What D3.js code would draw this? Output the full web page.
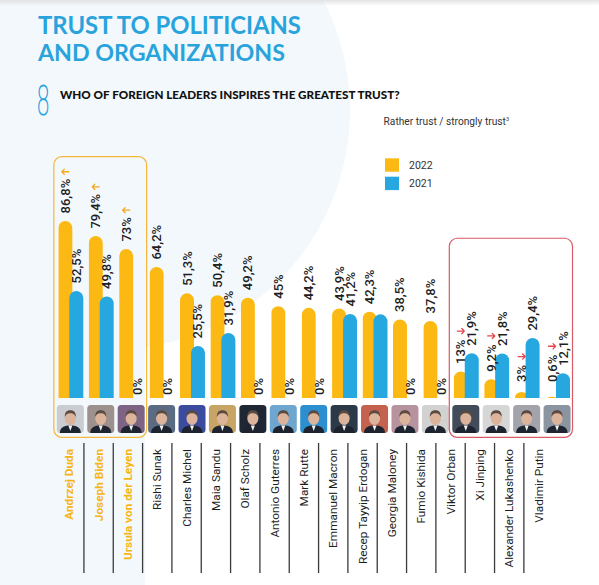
<!DOCTYPE html>
<html>
<head>
<meta charset="utf-8">
<script src="https://cdn.jsdelivr.net/npm/d3@7"></script>
<style>
  html, body { margin: 0; padding: 0; background: #fff; }
  svg { display: block; }
</style>
</head>
<body>
<svg id="chart" width="599" height="585"></svg>
<script>
// data
const leaders = ["Andrzej Duda", "Joseph Biden", "Ursula von der Leyen", "Rishi Sunak", "Charles Michel",
  "Maia Sandu", "Olaf Scholz", "Antonio Guterres", "Mark Rutte", "Emmanuel Macron",
  "Recep Tayyip Erdogan", "Georgia Maloney", "Fumio Kishida", "Viktor Orban", "Xi Jinping",
  "Alexander Lukashenko", "Vladimir Putin"];
const trust2022 = [86.8, 79.4, 73, 64.2, 51.3, 50.4, 49.2, 45, 44.2, 43.9, 42.3, 38.5, 37.8, 13, 9.2, 3, 0.6];
const trust2021 = [52.5, 49.8, 0, 0, 25.5, 31.9, 0, 0, 0, 41.2, 41.0, 0, 0, 21.9, 21.8, 29.4, 12.1];
const years = ["2022", "2021"];
const risers = ["Andrzej Duda", "Joseph Biden", "Ursula von der Leyen"];
const fallers = ["Viktor Orban", "Xi Jinping", "Alexander Lukashenko", "Vladimir Putin"];
const unlabeled2021 = ["Recep Tayyip Erdogan"];

// photo placeholders (background tone of each portrait)
const photoTone = ["#c9cdd2", "#9c918c", "#7d6384", "#5b6b82", "#3b4c9e", "#c9a565", "#1f2735",
  "#6fa6cf", "#2b8fd0", "#2b3949", "#c4624f", "#b7929f", "#d2d2d2", "#424b59", "#d6d6d6", "#a3a3ab", "#8b95a1"];

const W = 599, H = 585;
const yellow = "#fdb913", blue = "#27a7df", textDark = "#1e1e1e";
const svg = d3.select("#chart");

// background
svg.append("rect").attr("width", W).attr("height", H).attr("fill", "#fff");
svg.append("circle").attr("cx", 110).attr("cy", 110).attr("r", 240).attr("fill", "#f3f8fd");
svg.append("rect").attr("width", 145).attr("height", H).attr("fill", "#f3f8fd");
const grad = svg.append("defs").append("linearGradient").attr("id", "topShade")
  .attr("x1", 0).attr("x2", 0).attr("y1", 0).attr("y2", 1);
grad.append("stop").attr("offset", 0).attr("stop-color", "#d8d8d8").attr("stop-opacity", 0.7);
grad.append("stop").attr("offset", 1).attr("stop-color", "#d8d8d8").attr("stop-opacity", 0);
svg.append("rect").attr("width", W).attr("height", 6).attr("fill", "url(#topShade)");

// fit text to a measured width
function fitWidth(sel, w) {
  const len = sel.node().getComputedTextLength();
  sel.attr("font-size", parseFloat(sel.attr("font-size")) * w / len);
}

// titles
const title = svg.append("g").attr("fill", "#29a3dc").attr("font-family", "Lato").attr("font-weight", 700);
fitWidth(title.append("text").attr("x", 38).attr("y", 34.3).attr("font-size", 24).text("TRUST TO POLITICIANS"), 263);
fitWidth(title.append("text").attr("x", 38).attr("y", 61).attr("font-size", 24).text("AND ORGANIZATIONS"), 247);

svg.append("text")
  .attr("transform", "translate(36,115) scale(0.55,1)")
  .attr("font-family", "DejaVu Sans").attr("font-weight", 200).attr("font-size", 41)
  .attr("fill", "#29a3dc").text("8");

fitWidth(svg.append("text").attr("x", 60).attr("y", 99.3)
  .attr("font-family", "Lato").attr("font-weight", 900).attr("font-size", 13)
  .attr("fill", "#111").text("WHO OF FOREIGN LEADERS INSPIRES THE GREATEST TRUST?"), 340);

const note = svg.append("text").attr("x", 509).attr("y", 125).attr("text-anchor", "end")
  .attr("font-family", "Roboto").attr("font-size", 10.2).attr("fill", "#333");
note.append("tspan").text("Rather trust / strongly trust");
note.append("tspan").attr("dy", -4).attr("font-size", 5.5).text("3");

// scales
const y = d3.scaleLinear().domain([0, 100]).range([398, 194]);
const x = d3.scaleBand().domain(leaders).range([55.6, 55.6 + 17 * 30.42])
  .paddingInner(0.18).paddingOuter(0.09);
const xName = d3.scaleBand().domain(leaders).range([54.6, 54.6 + 17 * 29.33]);
const color = d3.scaleOrdinal().domain(years).range([yellow, blue]);

const barW = 14, r = barW / 2;
const offset = { "2022": 0, "2021": x.bandwidth() - barW };
const rows = leaders.map((name, i) => ({ name, i, "2022": trust2022[i], "2021": trust2021[i] }));
const fmt = v => String(v).replace(".", ",") + "%";

// legend
const legend = svg.append("g").attr("font-family", "Roboto").attr("font-size", 10.5).attr("fill", "#333");
years.forEach((yr, k) => {
  legend.append("rect").attr("x", 385).attr("y", 158.3 + k * 18.4).attr("width", 14).attr("height", 13.4)
    .attr("fill", color(yr));
  legend.append("text").attr("x", 409).attr("y", 165 + k * 18.4).attr("dominant-baseline", "central").text(yr);
});

// bars, clipped at the baseline so only the tops are round
svg.select("defs").append("clipPath").attr("id", "aboveBase")
  .append("rect").attr("x", 0).attr("y", 0).attr("width", W).attr("height", y(0));

const cols = svg.append("g").selectAll("g").data(rows).join("g")
  .attr("transform", d => `translate(${x(d.name)},0)`);

years.forEach(yr => {
  cols.filter(d => d[yr] > 0).append("rect")
    .attr("clip-path", "url(#aboveBase)")
    .attr("x", offset[yr]).attr("width", barW)
    .attr("y", d => y(d[yr]))
    .attr("height", d => y(0) - y(d[yr]) + r)
    .attr("rx", r)
    .attr("fill", color(yr));
});

// value labels
function labelBottom(v) {
  if (v === 0) return y(0) - 3;
  return Math.min(y(v) - 7.5, y(0) - 16);
}
years.forEach(yr => {
  cols.filter(d => !(yr === "2021" && unlabeled2021.includes(d.name))).append("text")
    .attr("transform", d => `translate(${offset[yr] + r},${labelBottom(d[yr])}) rotate(-90)`)
    .attr("dominant-baseline", "central")
    .attr("font-family", "Roboto").attr("font-weight", 500).attr("font-size", 13)
    .attr("fill", textDark)
    .text(d => fmt(d[yr]));
});

// arrows above the 2022 labels
function arrow(g, dir, stroke) {
  g.append("path")
    .attr("d", `M${-3.5 * dir},0H${3.5 * dir}M${1 * dir},-2.6L${3.5 * dir},0L${1 * dir},2.6`)
    .attr("fill", "none").attr("stroke", stroke).attr("stroke-width", 1.3)
    .attr("stroke-linecap", "round").attr("stroke-linejoin", "round");
}
const measure = svg.append("text").attr("font-family", "Roboto").attr("font-weight", 500).attr("font-size", 13);
function labelTop(v) {
  measure.text(fmt(v));
  return labelBottom(v) - measure.node().getComputedTextLength();
}
cols.filter(d => risers.includes(d.name)).append("g")
  .attr("transform", d => `translate(${r},${labelTop(d["2022"]) - 7})`)
  .each(function () { arrow(d3.select(this), -1, "#f5a81c"); });
cols.filter(d => fallers.includes(d.name)).append("g")
  .attr("transform", d => `translate(${r},${labelTop(d["2022"]) - 8.5})`)
  .each(function () { arrow(d3.select(this), 1, "#e8434c"); });
measure.remove();

// portrait placeholders
const photo = cols.append("g").attr("transform", "translate(-1.5,405)");
photo.append("rect").attr("width", 27).attr("height", 28).attr("rx", 3.5)
  .attr("fill", d => photoTone[d.i]);
photo.append("path").attr("d", "M3,28C3,22 8,20.5 13.5,20.5C19,20.5 24,22 24,28Z").attr("fill", "#1d2430");
photo.append("path").attr("d", "M11.5,20.5L13.5,26L15.5,20.5Z").attr("fill", "#f2f2f2");
photo.append("ellipse").attr("cx", 13.5).attr("cy", 13).attr("rx", 5.6).attr("ry", 7)
  .attr("fill", "#dcb39b");
photo.append("path").attr("d", "M7.9,12C7.9,6.5 10.5,5.2 13.5,5.2C16.5,5.2 19.1,6.5 19.1,12C17.5,8.5 15,8.2 13.5,8.2C12,8.2 9.5,8.5 7.9,12Z")
  .attr("fill", "#5b4a40");

// names and separators
const names = svg.append("g");
names.selectAll("text").data(leaders).join("text")
  .attr("transform", d => `translate(${xName(d) + xName.bandwidth() / 2},449) rotate(-90)`)
  .attr("text-anchor", "end").attr("dominant-baseline", "central")
  .attr("font-family", "Roboto").attr("font-size", 11.8)
  .attr("font-weight", d => risers.includes(d) ? 700 : 400)
  .attr("fill", d => risers.includes(d) ? "#f7b514" : textDark)
  .text(d => d);
names.selectAll("line").data(leaders.slice(1)).join("line")
  .attr("x1", d => xName(d)).attr("x2", d => xName(d))
  .attr("y1", 443).attr("y2", 573)
  .attr("stroke", "#3a3a3a").attr("stroke-width", 1.3);

// highlight frames
function frame(group, top, stroke) {
  const x0 = x(group[0]) - 4.5;
  const x1 = x(group[group.length - 1]) + x.bandwidth() + 2.5;
  svg.append("rect").attr("x", x0).attr("y", y(top)).attr("width", x1 - x0)
    .attr("height", 437.3 - y(top)).attr("rx", 8)
    .attr("fill", "none").attr("stroke", stroke).attr("stroke-width", 1.2);
}
frame(risers, 118.3, "#f6b73c");
frame(fallers, 78.3, "#dc5a66");
</script>
</body>
</html>
